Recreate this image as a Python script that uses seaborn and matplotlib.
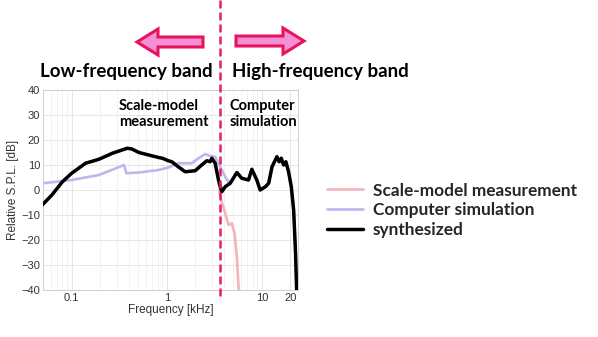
import numpy as np
import pandas as pd
import matplotlib
matplotlib.use("Agg")
import matplotlib.pyplot as plt
from matplotlib.patches import FancyArrow
from matplotlib.lines import Line2D
import seaborn as sns

# ---------------- data ----------------
syn_freq = [0.049, 0.062, 0.080, 0.100, 0.140, 0.194, 0.268, 0.385, 0.430, 0.510,
            0.710, 0.820, 0.900, 1.040, 1.130, 1.300, 1.560, 1.990, 2.330, 2.640,
            2.860, 2.980, 3.230, 3.500, 3.790, 4.120, 4.650, 5.460, 6.150, 7.240,
            7.850, 8.850, 9.600, 10.90, 11.80, 12.80, 14.40, 15.20, 16.00, 16.90,
            17.90, 19.10, 20.40, 21.60, 22.60, 23.30]
syn_db = [-6.0, -2.0, 3.3, 6.7, 10.7, 12.3, 14.7, 16.7, 16.4, 15.0,
          13.6, 13.0, 12.7, 11.7, 11.3, 9.5, 7.3, 7.7, 10.0, 11.7,
          11.3, 12.7, 10.7, 4.0, -0.7, 1.3, 2.7, 7.0, 4.7, 4.0,
          8.3, 4.0, 0.0, 1.3, 2.7, 9.3, 13.3, 11.3, 12.7, 10.0,
          11.3, 7.3, 1.3, -8.0, -25.0, -42.0]

sim_freq = [0.050, 0.100, 0.194, 0.356, 0.376, 0.510, 0.820, 1.040, 1.330, 1.830,
            2.160, 2.540, 2.860, 3.230, 3.650, 4.120, 4.460, 4.650, 5.460, 6.150,
            7.240, 7.850, 8.850, 9.600, 10.90, 11.80, 12.80, 14.40, 15.20, 16.00,
            16.90, 17.90, 19.10, 20.40, 21.60, 22.60, 23.30]
sim_db = [2.7, 4.0, 6.0, 10.0, 6.7, 7.0, 8.0, 9.0, 10.7, 10.7,
          12.7, 14.4, 13.6, 13.3, 9.3, 5.3, 3.3, 2.7, 7.0, 4.7,
          4.0, 8.3, 4.0, 0.0, 1.3, 2.7, 9.3, 13.3, 11.3, 12.7,
          10.0, 11.3, 7.3, 1.3, -8.0, -25.0, -42.0]

scale_freq = [0.049, 0.062, 0.080, 0.100, 0.140, 0.194, 0.268, 0.385, 0.430, 0.510,
              0.710, 0.820, 0.900, 1.040, 1.130, 1.300, 1.560, 1.990, 2.330, 2.640,
              2.860, 2.980, 3.230, 3.500, 3.650, 4.120, 4.460, 4.830, 5.160, 5.460,
              5.750]
scale_db = [-6.0, -2.0, 3.3, 6.7, 10.7, 12.3, 14.7, 16.7, 16.4, 15.0,
            13.6, 13.0, 12.7, 11.7, 11.3, 9.5, 7.3, 7.7, 10.0, 11.7,
            11.3, 12.7, 10.7, 4.0, -2.7, -9.3, -14.0, -13.3, -17.3, -26.7,
            -42.0]

y_ticks = [-40, -30, -20, -10, 0, 10, 20, 30, 40]
x_ticks = [0.1, 1, 10, 20]
x_ticklabels = ["0.1", "1", "10", "20"]

labels = ["Scale-model measurement", "Computer simulation", "synthesized"]

# ---------------- figure ----------------
sns.set_theme(style="white")
plt.rcParams["font.family"] = ["Liberation Sans", "DejaVu Sans"]

W, H = 598, 337
fig = plt.figure(figsize=(W / 100, H / 100), dpi=100)
fig.patch.set_facecolor("white")

def fx(px):
    return px / W

def fy(py):
    return 1 - py / H

ax = fig.add_axes([fx(43), fy(290), (298 - 43) / W, (290 - 90) / H])

c_scale = "#f2b3bb"
c_sim = "#b9b9ef"
c_syn = "#000000"

df_scale = pd.DataFrame({"f": scale_freq, "db": scale_db})
df_sim = pd.DataFrame({"f": sim_freq, "db": sim_db})
df_syn = pd.DataFrame({"f": syn_freq, "db": syn_db})

sns.lineplot(data=df_scale, x="f", y="db", ax=ax, color=c_scale, lw=1.9,
             sort=False, estimator=None, zorder=2)
sns.lineplot(data=df_sim, x="f", y="db", ax=ax, color=c_sim, lw=1.9,
             sort=False, estimator=None, zorder=3)
sns.lineplot(data=df_syn, x="f", y="db", ax=ax, color=c_syn, lw=2.5,
             sort=False, estimator=None, zorder=4)

ax.set_xscale("log")
ax.set_xlim(0.05, 24)
ax.set_ylim(-40, 40)
ax.set_yticks(y_ticks)
ax.set_xticks(x_ticks)
ax.set_xticklabels(x_ticklabels)
ax.xaxis.set_minor_formatter(matplotlib.ticker.NullFormatter())
ax.grid(True, which="major", color="#e2e2e2", lw=0.6)
ax.grid(True, which="minor", axis="x", color="#eeeeee", lw=0.5)
for s in ax.spines.values():
    s.set_color("#c8c8c8")
    s.set_linewidth(0.6)
ax.tick_params(axis="both", which="both", direction="in", length=2,
               color="#bbbbbb", labelsize=8, labelcolor="#333333", pad=2)
ax.tick_params(axis="x", which="minor", length=1.5)
ax.set_xlabel("Frequency [kHz]", fontsize=8.5, color="#333333", labelpad=1)
ax.set_ylabel("Relative S.P.L. [dB]", fontsize=8.5, color="#333333", labelpad=2)

# dashed divider (figure level)
fig.add_artist(Line2D([fx(220), fx(220)], [fy(0), fy(300)], transform=fig.transFigure,
                      color="#e0206a", lw=1.8, dashes=(3.2, 1.6), zorder=10))

# arrows
arr_fc = "#f58fd6"
arr_ec = "#e8135c"
fig.add_artist(FancyArrow(fx(203), fy(42), fx(137) - fx(203), 0, width=10 / H,
                          head_width=26 / H, head_length=21 / W,
                          length_includes_head=True, transform=fig.transFigure,
                          fc=arr_fc, ec=arr_ec, lw=2.2))
fig.add_artist(FancyArrow(fx(236), fy(41), fx(304) - fx(236), 0, width=10 / H,
                          head_width=26 / H, head_length=21 / W,
                          length_includes_head=True, transform=fig.transFigure,
                          fc=arr_fc, ec=arr_ec, lw=2.2))

bold = dict(family=["Lato", "DejaVu Sans"], fontweight="bold", color="black")
fig.text(fx(40), fy(72), "Low-frequency band", fontsize=13.5, ha="left", va="center", **bold)
fig.text(fx(232), fy(72), "High-frequency band", fontsize=13.5, ha="left", va="center", **bold)
fig.text(fx(119), fy(114), "Scale-model\nmeasurement", fontsize=10.5, ha="left",
         va="center", linespacing=1.25, **bold)
fig.text(fx(230), fy(114), "Computer\nsimulation", fontsize=10.5, ha="left",
         va="center", linespacing=1.25, **bold)

# legend
handles = [Line2D([], [], color=c_scale, lw=1.9),
           Line2D([], [], color=c_sim, lw=1.9),
           Line2D([], [], color=c_syn, lw=2.5)]
leg = fig.legend(handles, labels, loc="upper left",
                 bbox_to_anchor=(fx(311), fy(167)), frameon=False,
                 handlelength=2.1, handletextpad=0.6, labelspacing=0.22,
                 prop=dict(family="Lato", weight="bold", size=12.4))

fig.savefig("out.png", dpi=100, facecolor="white")
